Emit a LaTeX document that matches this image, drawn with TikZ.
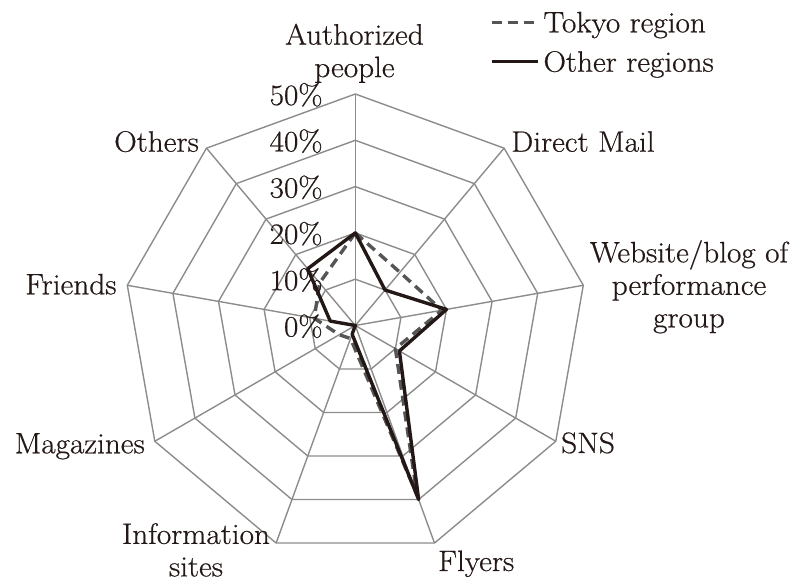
\documentclass[tikz,border=0pt]{standalone}
\usepackage{fontspec}
\setmainfont{Latin Modern Roman}[FakeStretch=1.06,FakeBold=0.6]
\definecolor{gridc}{RGB}{140,140,140}
\definecolor{inkc}{RGB}{35,24,21}
\definecolor{dashc}{RGB}{85,85,85}
\begin{document}
\begin{tikzpicture}[x=1pt,y=-1pt,
  font=\fontsize{29.5}{32.5}\selectfont,
  gridline/.style={draw=gridc,line width=1.4pt},
  tokyoline/.style={draw=dashc,line width=3.4pt,dash pattern=on 10pt off 6pt,line join=round},
  otherline/.style={draw=inkc,line width=3.4pt,line join=round},
  lab/.style={inner sep=0pt,text=inkc},
  pct/.style={inner sep=0pt,text=inkc,anchor=base east}]
\useasboundingbox (0,0) rectangle (790,581);
\coordinate (O) at (355.3,325.5);
\begin{scope}[shift={(355.3,325.5)}]
  % rings
  \foreach \k in {1,...,5}{
    \draw[gridline] (-90:{46.3*\k}) -- (-50:{46.3*\k}) -- (-10:{46.3*\k}) -- (30:{46.3*\k}) -- (70:{46.3*\k}) -- (110:{46.3*\k}) -- (150:{46.3*\k}) -- (190:{46.3*\k}) -- (230:{46.3*\k}) -- cycle;
  }
  % spokes
  \foreach \i in {0,...,8}{
    \coordinate (v\i) at ({40*\i-90}:231.5);
    \draw[gridline] (O) -- (v\i);
  }
  % data points
  \foreach \v [count=\i from 0] in {20,15,19,10,39,3,4,9,12}
    \coordinate (t\i) at ({40*\i-90}:{\v*4.63});
  \foreach \v [count=\i from 0] in {20,10,20,11,40,2,0,5.5,16}
    \coordinate (o\i) at ({40*\i-90}:{\v*4.63});
\end{scope}
\draw[tokyoline] (t0) -- (t1) -- (t2) -- (t3) -- (t4) -- (t5) -- (t6) -- (t7) -- (t8) -- cycle;
\draw[otherline] (o0) -- (o1) -- (o2) -- (o3) -- (o4) -- (o5) -- (o6) -- (o7) -- (o8) -- cycle;
% percent labels
\foreach \k in {0,...,5}{
  \pgfmathtruncatemacro{\pv}{10*\k}
  \node[pct] (p\k) at (322.7,{325.5-46.3*\k+11}) {\pv\%};
}
% axis labels
\node[lab,align=center,anchor=north] (lauth) at (354.5,23.5) {Authorized\\people};
\node[lab,anchor=base west] (ldm) at (511,151.7) {Direct Mail};
\node[lab,align=center,anchor=north] (lweb) at (689,240) {Website/blog of\\performance\\group};
\node[lab,anchor=base west] (lsns) at (561,453) {SNS};
\node[lab,anchor=base west] (lfly) at (438,571) {Flyers};
\node[lab,align=center,anchor=north] (linfo) at (196,523) {Information\\sites};
\node[lab,anchor=base east] (lmag) at (145,453.3) {Magazines};
\node[lab,anchor=base east] (lfri) at (116.7,294.3) {Friends};
\node[lab,anchor=base east] (loth) at (199,151.7) {Others};
% legend
\node[lab,anchor=base west] (legt) at (543.3,32.3) {Tokyo region};
\node[lab,anchor=base west] (lego) at (543.3,71.7) {Other regions};
\coordinate (lt1) at (491.7,22.7);
\coordinate (lt2) at (533.7,22.7);
\coordinate (lo1) at (491.7,61.7);
\coordinate (lo2) at (538.3,61.7);
\draw[tokyoline,line cap=butt] (lt1) -- (lt2);
\draw[otherline] (lo1) -- (lo2);
\end{tikzpicture}
\end{document}
